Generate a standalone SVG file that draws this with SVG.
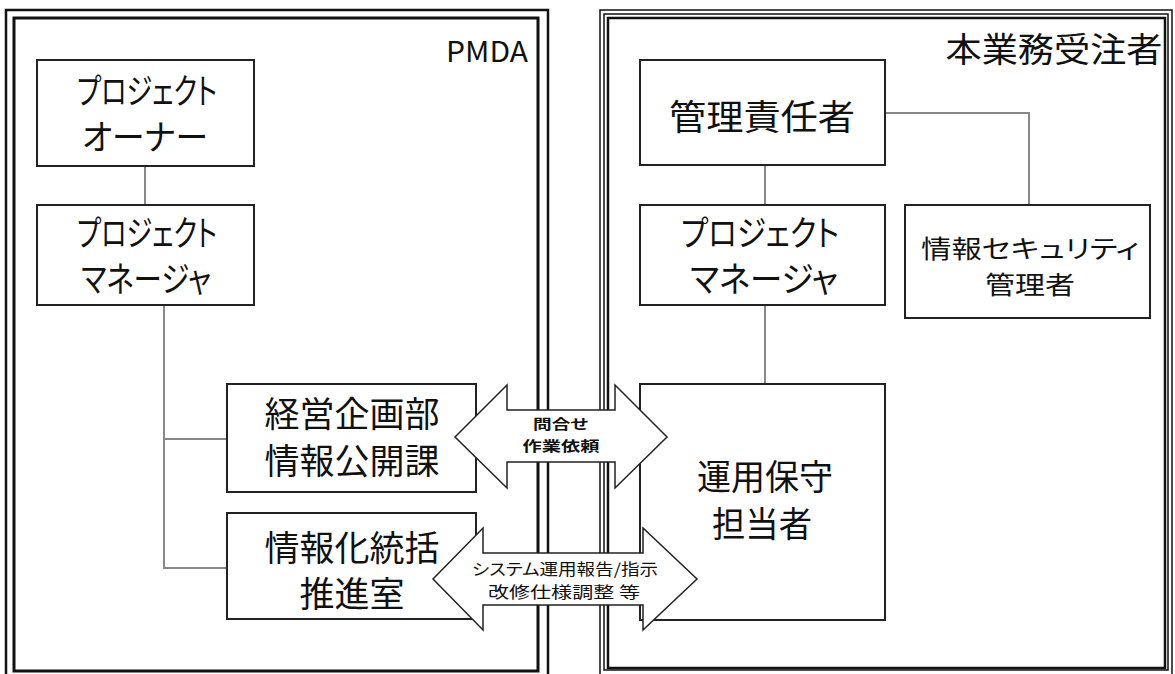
<svg xmlns="http://www.w3.org/2000/svg" width="1175" height="674" viewBox="0 0 1175 674">
<style>
text{font-family:"Noto Sans CJK JP","Noto Sans",sans-serif;fill:#111;text-anchor:middle}
.kana{font-feature-settings:"palt"}
.box{fill:#fff;stroke:#222;stroke-width:2}
.big{font-size:35px}
.mid{font-size:25px}
.sm{font-size:14px}
.conn{stroke:#888;stroke-width:2;fill:none}
.arrow{fill:#fff;stroke:#222;stroke-width:1.5}
.frame{fill:none;stroke:#111}
</style>
<rect width="1175" height="674" fill="#fff"/>
<g id="frame-pmda">
<rect class="frame" x="6" y="10" width="542" height="680" stroke-width="2.5"/>
<rect class="frame" x="14" y="18" width="524" height="653" stroke-width="3"/>
<text x="487" y="62" font-size="29" textLength="82" lengthAdjust="spacingAndGlyphs">PMDA</text>
</g>
<g id="frame-contractor">
<rect class="frame" x="600" y="10" width="572" height="680" stroke-width="1.5"/>
<rect class="frame" x="604" y="14" width="564" height="656" stroke-width="1.5"/>
<rect class="frame" x="608" y="18" width="557" height="650" stroke-width="2.5"/>
<text x="1054" y="62" font-size="34" textLength="217" lengthAdjust="spacingAndGlyphs">本業務受注者</text>
</g>
<g id="connectors">
<line class="conn" x1="145" y1="166" x2="145" y2="205"/>
<polyline class="conn" points="164,305 164,568 227,568"/>
<line class="conn" x1="164" y1="439" x2="227" y2="439"/>
<line class="conn" x1="765" y1="165" x2="765" y2="205"/>
<line class="conn" x1="765" y1="305" x2="765" y2="384"/>
<polyline class="conn" points="885,113 1029,113 1029,205"/>
</g>
<g id="node-owner">
<rect class="box" x="37" y="60" width="217" height="106"/>
<text class="big kana" x="147" y="104" textLength="140" lengthAdjust="spacingAndGlyphs">プロジェクト</text>
<text class="big kana" x="145" y="150" textLength="126" lengthAdjust="spacingAndGlyphs">オーナー</text>
</g>
<g id="node-pm-pmda">
<rect class="box" x="37" y="205" width="217" height="100"/>
<text class="big kana" x="147" y="246" textLength="140" lengthAdjust="spacingAndGlyphs">プロジェクト</text>
<text class="big kana" x="146" y="292" textLength="130" lengthAdjust="spacingAndGlyphs">マネージャ</text>
</g>
<g id="node-keiei">
<rect class="box" x="227" y="384" width="249" height="108"/>
<text class="big" x="352" y="427" textLength="175" lengthAdjust="spacingAndGlyphs">経営企画部</text>
<text class="big" x="352" y="474" textLength="175" lengthAdjust="spacingAndGlyphs">情報公開課</text>
</g>
<g id="node-johoka">
<rect class="box" x="227" y="513" width="249" height="106"/>
<text class="big" x="352" y="561" textLength="175" lengthAdjust="spacingAndGlyphs">情報化統括</text>
<text class="big" x="352" y="607" textLength="105" lengthAdjust="spacingAndGlyphs">推進室</text>
</g>
<g id="node-kanri">
<rect class="box" x="640" y="60" width="245" height="105"/>
<text class="big" x="762" y="130" textLength="186" lengthAdjust="spacingAndGlyphs">管理責任者</text>
</g>
<g id="node-pm-contractor">
<rect class="box" x="640" y="205" width="245" height="100"/>
<text class="big kana" x="760" y="246" textLength="158" lengthAdjust="spacingAndGlyphs">プロジェクト</text>
<text class="big kana" x="764" y="292" textLength="148" lengthAdjust="spacingAndGlyphs">マネージャ</text>
</g>
<g id="node-security">
<rect class="box" x="905" y="205" width="245" height="113"/>
<text class="mid kana" x="1030" y="258" textLength="218" lengthAdjust="spacingAndGlyphs">情報セキュリティ</text>
<text class="mid" x="1030" y="294" textLength="90" lengthAdjust="spacingAndGlyphs">管理者</text>
</g>
<g id="node-unyo">
<rect class="box" x="640" y="384" width="245" height="236"/>
<text class="big" x="765" y="490" textLength="136" lengthAdjust="spacingAndGlyphs">運用保守</text>
<text class="big" x="762" y="537" textLength="100" lengthAdjust="spacingAndGlyphs">担当者</text>
</g>
<g id="arrow-inquiry">
<polygon class="arrow" points="455,437 507,385 507,410 615,410 615,385 667,437 615,488 615,462 507,462 507,488"/>
<text class="sm" x="561" y="429" font-weight="bold" textLength="56" lengthAdjust="spacingAndGlyphs">問合せ</text>
<text class="sm" x="561" y="451" font-weight="bold" textLength="77" lengthAdjust="spacingAndGlyphs">作業依頼</text>
</g>
<g id="arrow-report">
<polygon class="arrow" points="433,579 483,528 483,553 643,553 643,528 697,579 643,630 643,605 483,605 483,630"/>
<text class="kana" x="565" y="575" font-size="16" textLength="186" lengthAdjust="spacingAndGlyphs">システム運用報告/指示</text>
<text x="564" y="598" font-size="16" textLength="152" lengthAdjust="spacingAndGlyphs">改修仕様調整 等</text>
</g>
</svg>
